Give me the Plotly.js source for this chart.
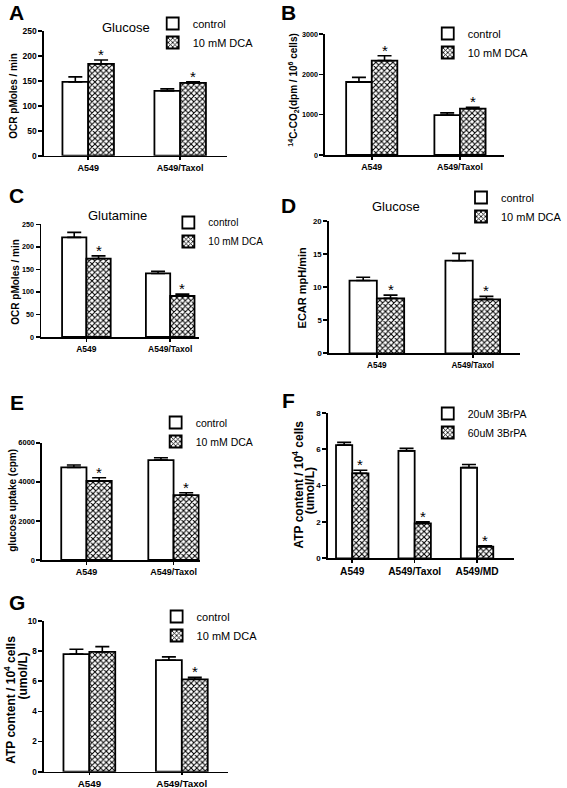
<!DOCTYPE html>
<html><head><meta charset="utf-8">
<script src="https://cdn.plot.ly/plotly-3.0.1.min.js"></script>
<style>html,body{margin:0;padding:0;background:#fff}#chart{width:567px;height:788px}</style>
</head><body><div id="chart"></div>
<script>
const W = 567, H = 788;

// ---------- Data ----------
const cats2 = ['A549', 'A549/Taxol'];
const cats3 = ['A549', 'A549/Taxol', 'A549/MD'];
const namesDCA = ['control', '10 mM DCA'];
const namesBrPA = ['20uM 3BrPA', '60uM 3BrPA'];

const aCtrl = [148, 130], aCtrlErr = [10, 4], aDca = [184, 146], aDcaErr = [8, 2];
const aCtrlStar = [0, 0], aDcaStar = [1, 1];

const bCtrl = [1810, 990], bCtrlErr = [115, 55], bDca = [2340, 1150], bDcaErr = [120, 35];
const bCtrlStar = [0, 0], bDcaStar = [1, 1];

const cCtrl = [221, 141], cCtrlErr = [11, 5], cDca = [174, 91], cDcaErr = [6, 4];
const cCtrlStar = [0, 0], cDcaStar = [1, 1];

const dCtrl = [11.0, 14.0], dCtrlErr = [0.5, 1.1], dDca = [8.3, 8.15], dDcaErr = [0.5, 0.45];
const dCtrlStar = [0, 0], dDcaStar = [1, 1];

const eCtrl = [4740, 5110], eCtrlErr = [120, 120], eDca = [4040, 3320], eDcaErr = [170, 120];
const eCtrlStar = [0, 0], eDcaStar = [1, 1];

const fLow = [6.22, 5.9, 4.98], fLowErr = [0.15, 0.14, 0.17], fHigh = [4.67, 1.92, 0.64], fHighErr = [0.17, 0.09, 0.05];
const fLowStar = [0, 0, 0], fHighStar = [1, 1, 1];

const gCtrl = [7.8, 7.4], gCtrlErr = [0.33, 0.22], gDca = [7.95, 6.13], gDcaErr = [0.35, 0.13];
const gCtrlStar = [0, 0], gDcaStar = [0, 1];

const ocrTitle = 'OCR pMoles / min';
const co2Title = '<sup>14</sup>C-CO<sub>2</sub>(dpm / 10<sup>6</sup> cells)';
const ecarTitle = 'ECAR mpH/min';
const uptakeTitle = 'glucose uptake (cpm)';
const atpTitle = 'ATP content / 10<sup>4</sup> cells<br>(umol/L)';

// ---------- Panel definitions (data refs + style) ----------
const panels = [
  {letter:'A', cats:cats2, names:namesDCA, s:[aCtrl,aDca], e:[aCtrlErr,aDcaErr], st:[aCtrlStar,aDcaStar],
   ytitle:ocrTitle, ymax:250, dtick:50, title:'Glucose', tf:[9,8.5], xtl:3,
   dom:[45,232,31,155.7], xr:[-0.48,1.51], w:0.28, leg:[195,23,11], let:[17,12], tt:[129,28], yt:[[13,96]], ytf:10},
  {letter:'B', cats:cats2, names:namesDCA, s:[bCtrl,bDca], e:[bCtrlErr,bDcaErr], st:[bCtrlStar,bDcaStar],
   ytitle:co2Title, ymax:3000, dtick:1000, title:'', tf:[8.8,7.2], xtl:3,
   dom:[332,515,34,155], xr:[-0.53,1.5], w:0.29, leg:[476,33,11], let:[295,12], tt:[0,0], yt:[[300,90]], ytf:10},
  {letter:'C', cats:cats2, names:namesDCA, s:[cCtrl,cDca], e:[cCtrlErr,cDcaErr], st:[cCtrlStar,cDcaStar],
   ytitle:ocrTitle, ymax:250, dtick:50, title:'Glutamine', tf:[8.5,7.2], xtl:3,
   dom:[42,203,224.3,337], xr:[-0.54,1.34], w:0.29, leg:[211,222,10], let:[17,196], tt:[120,216], yt:[[15,282]], ytf:10},
  {letter:'D', cats:cats2, names:namesDCA, s:[dCtrl,dDca], e:[dCtrlErr,dDcaErr], st:[dCtrlStar,dDcaStar],
   ytitle:ecarTitle, ymax:20, dtick:5, title:'Glucose', tf:[8.2,7.8], xtl:3,
   dom:[336,531,221,353.3], xr:[-0.5,1.49], w:0.285, leg:[510,197,11], let:[295,205], tt:[405,206], yt:[[309,287]], ytf:11},
  {letter:'E', cats:cats2, names:namesDCA, s:[eCtrl,eDca], e:[eCtrlErr,eDcaErr], st:[eCtrlStar,eDcaStar],
   ytitle:uptakeTitle, ymax:6000, dtick:2000, title:'', tf:[9,7.5], xtl:3,
   dom:[43,204,442.7,560], xr:[-0.51,1.3], w:0.29, leg:[198,422,10.5], let:[17,403], tt:[0,0], yt:[[12,500]], ytf:10},
  {letter:'F', cats:cats3, names:namesBrPA, s:[fLow,fHigh], e:[fLowErr,fHighErr], st:[fLowStar,fHighStar],
   ytitle:atpTitle, ymax:8, dtick:2, title:'', tf:[10.2,8], xtl:3,
   dom:[335,525,412.7,558.3], xr:[-0.39,2.59], w:0.26, leg:[476,413,10.5], let:[295,400], tt:[0,0], yt:[[304,485],[317,491]], ytf:12},
  {letter:'G', cats:cats2, names:namesDCA, s:[gCtrl,gDca], e:[gCtrlErr,gDcaErr], st:[gCtrlStar,gDcaStar],
   ytitle:atpTitle, ymax:10, dtick:2, title:'', tf:[9.8,8.2], xtl:2,
   dom:[45,233,621,771.7], xr:[-0.49,1.5], w:0.28, leg:[199,616,11], let:[17,602], tt:[0,0], yt:[[10,700],[24,676]], ytf:12}
];

const FONT = 'Liberation Sans, Arial, sans-serif';
const px = v => v / W;
const py = v => 1 - v / H;

const data = [];
const annotations = [];
const layout = {
  width: W, height: H, margin: {l:0, r:0, t:0, b:0},
  paper_bgcolor: '#fff', plot_bgcolor: 'rgba(0,0,0,0)',
  barmode: 'overlay', font: {family: FONT, color: '#000'},
  showlegend: true
};

panels.forEach((p, k) => {
  const n = k + 1;
  const xa = n === 1 ? 'x' : 'x' + n;
  const ya = n === 1 ? 'y' : 'y' + n;
  const xKey = n === 1 ? 'xaxis' : 'xaxis' + n;
  const yKey = n === 1 ? 'yaxis' : 'yaxis' + n;
  const legKey = n === 1 ? 'legend' : 'legend' + n;
  const idx = p.cats.map((c, i) => i);

  layout[xKey] = {
    domain: [px(p.dom[0]), px(p.dom[1])], anchor: ya, range: p.xr,
    tickvals: idx, ticktext: p.cats, showline: true, linecolor: '#000', linewidth: 1.6,
    ticks: 'outside', ticklen: p.xtl, tickwidth: 1.6, tickcolor: '#000',
    showgrid: false, zeroline: false, fixedrange: true,
    tickfont: {family: FONT, size: p.tf[0], weight: 'bold', color: '#000'}
  };
  layout[yKey] = {
    domain: [py(p.dom[3]), py(p.dom[2])], anchor: xa, range: [0, p.ymax], dtick: p.dtick,
    showline: true, linecolor: '#000', linewidth: 1.6,
    ticks: 'outside', ticklen: 4, tickwidth: 1.6, tickcolor: '#000',
    showgrid: false, zeroline: false, fixedrange: true,
    tickfont: {family: FONT, size: p.tf[1], weight: 'bold', color: '#000'}
  };
  layout[legKey] = {
    x: px(p.leg[0] - 39), y: py(p.leg[1] - 14), xanchor: 'left', yanchor: 'top',
    bgcolor: 'rgba(0,0,0,0)', borderwidth: 0, itemwidth: 30,
    font: {family: FONT, size: p.leg[2], color: '#000'}, tracegroupgap: 0
  };

  [0, 1].forEach(j => {
    const offset = j === 0 ? -p.w : 0;
    const errMinus = p.e[j].map(() => 0);
    const marker = j === 0
      ? {color: '#fff', line: {color: '#000', width: 1.8}}
      : {color: '#fff', line: {color: '#000', width: 1.8},
         pattern: {shape: 'x', bgcolor: '#fff', fgcolor: '#000', size: 4, solidity: 0.45}};
    data.push({
      type: 'bar', x: idx, y: p.s[j], xaxis: xa, yaxis: ya,
      name: p.names[j], legend: legKey, showlegend: true,
      offset: offset, width: p.w, marker: marker,
      error_y: {type: 'data', symmetric: false, array: p.e[j], arrayminus: errMinus,
                color: '#000', thickness: 1.6, width: 7},
      hoverinfo: 'skip'
    });
    p.st[j].forEach((flag, i) => {
      if (flag) {
        annotations.push({
          xref: xa, yref: ya, x: i + offset + p.w / 2, y: p.s[j][i] + p.e[j][i],
          text: '*', showarrow: false, yanchor: 'bottom', yshift: -5,
          font: {family: FONT, size: 15, color: '#000'}
        });
      }
    });
  });

  // y-axis title (one annotation per line)
  p.ytitle.split('<br>').forEach((line, li) => {
    annotations.push({
      xref: 'paper', yref: 'paper', x: px(p.yt[li][0]), y: py(p.yt[li][1]),
      text: line, showarrow: false, textangle: -90, xanchor: 'center', yanchor: 'middle',
      font: {family: FONT, size: p.ytf, weight: 'bold', color: '#000'}
    });
  });
  // panel letter
  annotations.push({
    xref: 'paper', yref: 'paper', x: px(p.let[0]), y: py(p.let[1]),
    text: p.letter, showarrow: false, xanchor: 'center', yanchor: 'middle',
    font: {family: FONT, size: 21, weight: 'bold', color: '#000'}
  });
  if (p.title) {
    annotations.push({
      xref: 'paper', yref: 'paper', x: px(p.tt[0]), y: py(p.tt[1]),
      text: p.title, showarrow: false, xanchor: 'center', yanchor: 'middle',
      font: {family: FONT, size: 13, color: '#000'}
    });
  }
});

layout.annotations = annotations;

Plotly.newPlot('chart', data, layout, {displayModeBar: false, staticPlot: true});
</script>
</body></html>
